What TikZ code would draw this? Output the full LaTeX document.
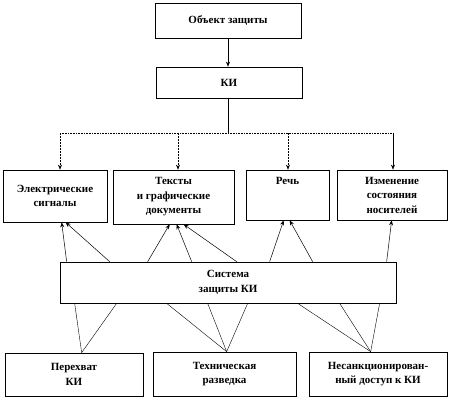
\documentclass[tikz,border=0pt]{standalone}
\usepackage{fontspec}
\setmainfont{Liberation Serif}
\usetikzlibrary{arrows.meta}
\begin{document}
\begin{tikzpicture}[x=1pt,y=-1pt,
  box/.style={draw=black, line width=0.7pt, align=center, inner sep=0pt,
    font=\fontsize{11}{14.5}\selectfont\bfseries},
  arr/.style={line width=0.5pt, -{Stealth[length=5pt,width=4pt]}},
  bus/.style={line width=0.6pt, densely dotted},
  ln/.style={line width=0.4pt}]
\useasboundingbox (0,0) rectangle (450,401);
% boxes
\node[box, minimum width=146pt, minimum height=35pt] (obj) at (228,20.5) {Объект защиты};
\node[box, minimum width=146pt, minimum height=31pt] (ki) at (229,82.5) {КИ};
\node[box, minimum width=104pt, minimum height=52pt] (el) at (55,196) {Электрические\\сигналы};
\node[box, minimum width=121pt, minimum height=54pt] (tx) at (173.5,197) {Тексты\\и графические\\документы};
\node[box, minimum width=83pt, minimum height=50pt, text height=9pt, text depth=30pt] (re) at (287.5,195) {Речь};
\node[box, minimum width=110pt, minimum height=50pt] (iz) at (392,195) {Изменение\\состояния\\носителей};
\node[box, minimum width=336pt, minimum height=41pt] (sys) at (228,282.5) {Система\\защиты КИ};
\node[box, minimum width=138pt, minimum height=43pt] (pe) at (74,374.5) {Перехват\\КИ};
\node[box, minimum width=143pt, minimum height=44pt] (te) at (224.5,374) {Техническая\\разведка};
\node[box, minimum width=138pt, minimum height=44pt] (ns) at (378,374) {Несанкционирован-\\ный доступ к КИ};
% top arrows
\draw[arr] (obj.south) -- (obj.south |- ki.north);
\coordinate (bm) at (228,133);
\coordinate (b1) at (60,133);
\coordinate (b2) at (178,133);
\coordinate (b3) at (288,133);
\coordinate (b4) at (393,133);
\draw[line width=0.6pt] (ki.south -| bm) -- (bm);
\draw[bus] (b1) -- (b4);
\draw[arr, densely dotted] (b1) -- (b1 |- el.north);
\draw[arr, densely dotted] (b2) -- (b2 |- tx.north);
\draw[arr, densely dotted] (b3) -- (b3 |- re.north);
\draw[arr] (b4) -- (b4 |- iz.north);
% upward arrows from system
\draw[arr] ([xshift=7pt]sys.north west) -- ([xshift=59pt]el.south west);
\draw[arr] ([xshift=50pt]sys.north west) -- ([xshift=63pt]el.south west);
\draw[arr] ([xshift=88pt]sys.north west) -- ([xshift=57pt]tx.south west);
\draw[arr] ([xshift=132pt]sys.north west) -- ([xshift=64pt]tx.south west);
\draw[arr] ([xshift=177pt]sys.north west) -- ([xshift=71pt]tx.south west);
\draw[arr] ([xshift=210pt]sys.north west) -- ([xshift=38pt]re.south west);
\draw[arr] ([xshift=253pt]sys.north west) -- ([xshift=44pt]re.south west);
\draw[arr] ([xshift=327pt]sys.north west) -- ([xshift=55pt]iz.south west);
% lines from sources to system
\draw[ln] ([xshift=77pt]pe.north west) -- ([xshift=15pt]sys.south west);
\draw[ln] ([xshift=77pt]pe.north west) -- ([xshift=57pt]sys.south west);
\draw[ln] ([xshift=74pt]te.north west) -- ([xshift=107pt]sys.south west);
\draw[ln] ([xshift=74pt]te.north west) -- ([xshift=148pt]sys.south west);
\draw[ln] ([xshift=74pt]te.north west) -- ([xshift=188pt]sys.south west);
\draw[ln] ([xshift=62pt]ns.north west) -- ([xshift=238pt]sys.south west);
\draw[ln] ([xshift=62pt]ns.north west) -- ([xshift=280pt]sys.south west);
\draw[ln] ([xshift=62pt]ns.north west) -- ([xshift=320pt]sys.south west);
\end{tikzpicture}
\end{document}
